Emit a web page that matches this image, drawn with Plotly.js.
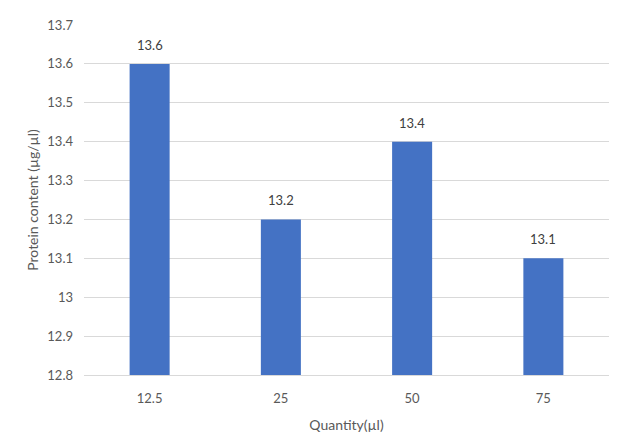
<!DOCTYPE html>
<html>
<head>
<meta charset="utf-8">
<script src="https://cdn.plot.ly/plotly-3.0.1.min.js"></script>
<style>html,body{margin:0;padding:0;background:#fff;}#chart{width:625px;height:443px;}</style>
</head>
<body>
<div id="chart"></div>
<script>
const categories = ["12.5", "25", "50", "75"];
const proteinValues = [13.6, 13.2, 13.4, 13.1];
const valueLabels = ["13.6", "13.2", "13.4", "13.1"];

const trace = {
  type: "bar",
  x: categories,
  y: proteinValues,
  marker: {color: "#4472C4"},
  hoverinfo: "x+y"
};

// category axis positions are indices 0..n-1
const labelAnnotations = categories.map((c, i) => ({
  x: i,
  y: proteinValues[i],
  xref: "x",
  yref: "y",
  text: valueLabels[i],
  showarrow: false,
  yanchor: "bottom",
  yshift: 9,
  font: {family: "Lato, 'Open Sans', sans-serif", size: 13, color: "#404040"}
}));

const layout = {
  width: 625,
  height: 443,
  margin: {l: 84, r: 16, t: 25, b: 68},
  paper_bgcolor: "#ffffff",
  plot_bgcolor: "#ffffff",
  bargap: 0.695,
  showlegend: false,
  font: {family: "Lato, 'Open Sans', sans-serif", size: 13, color: "#595959"},
  annotations: labelAnnotations,
  xaxis: {
    type: "category",
    categoryorder: "array",
    categoryarray: categories,
    range: [-0.5, categories.length - 0.5],
    showgrid: false,
    showline: true,
    linecolor: "#d9d9d9",
    linewidth: 1,
    ticks: "",
    ticklabelstandoff: 11,
    tickfont: {size: 13, color: "#595959"},
    title: {text: "Quantity(µl)", font: {size: 14, color: "#595959"}, standoff: 15}
  },
  yaxis: {
    range: [12.8, 13.7],
    dtick: 0.1,
    tick0: 12.8,
    showgrid: true,
    gridcolor: "#d9d9d9",
    gridwidth: 1,
    zeroline: false,
    showline: false,
    ticks: "",
    ticklabelstandoff: 10,
    tickfont: {size: 13, color: "#595959"},
    title: {text: "Protein content (µg/µl)", font: {size: 14, color: "#595959"}, standoff: 5}
  }
};

Plotly.newPlot("chart", [trace], layout, {displayModeBar: false, staticPlot: true});
</script>
</body>
</html>
